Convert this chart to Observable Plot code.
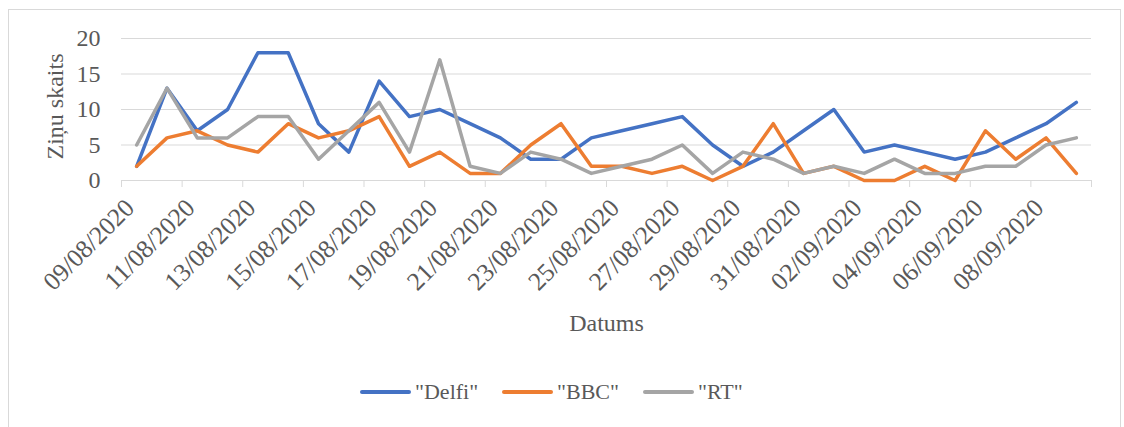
<!DOCTYPE html>
<html>
<head>
<meta charset="utf-8">
<script src="https://cdn.jsdelivr.net/npm/d3@7"></script>
<script src="https://cdn.jsdelivr.net/npm/@observablehq/plot@0.6"></script>
<style>
  html, body { margin: 0; padding: 0; background: #fff; }
  #wrap { position: relative; width: 1124px; height: 427px; overflow: hidden; font-family: "Liberation Serif", "Times New Roman", serif; color: #595959; }
  #frame { position: absolute; left: 8px; top: 9px; width: 1113px; height: 440px; border: 1px solid #d9d9d9; box-sizing: border-box; }
  #chart { position: absolute; left: 0; top: 0; }
  #legend { position: absolute; left: 0; top: 377px; width: 1124px; height: 30px; font-size: 22px; white-space: nowrap; }
  .item { position: absolute; top: 0; display: flex; align-items: center; height: 30px; }
  .swatch { width: 51px; height: 3.5px; border-radius: 2px; margin-right: 4px; }
</style>
</head>
<body>
<div id="wrap">
  <div id="frame"></div>
  <div id="chart"></div>
  <div id="legend"></div>
</div>
<script>
const dates = ["09/08/2020","10/08/2020","11/08/2020","12/08/2020","13/08/2020","14/08/2020","15/08/2020","16/08/2020",
  "17/08/2020","18/08/2020","19/08/2020","20/08/2020","21/08/2020","22/08/2020","23/08/2020","24/08/2020",
  "25/08/2020","26/08/2020","27/08/2020","28/08/2020","29/08/2020","30/08/2020","31/08/2020","01/09/2020",
  "02/09/2020","03/09/2020","04/09/2020","05/09/2020","06/09/2020","07/09/2020","08/09/2020","09/09/2020"];
const delfi = [2,13,7,10,18,18,8,4,14,9,10,8,6,3,3,6,7,8,9,5,2,4,7,10,4,5,4,3,4,6,8,11];
const bbc   = [2,6,7,5,4,8,6,7,9,2,4,1,1,5,8,2,2,1,2,0,2,8,1,2,0,0,2,0,7,3,6,1];
const rt    = [5,13,6,6,9,9,3,7,11,4,17,2,1,4,3,1,2,3,5,1,4,3,1,2,1,3,1,1,2,2,5,6];
const seriesNames = ['"Delfi"', '"BBC"', '"RT"'];
const seriesValues = [delfi, bbc, rt];
const yTicks = [0, 5, 10, 15, 20];
const yTitle = "Ziņu skaits";
const xTitle = "Datums";

const colors = ["#4472C4", "#ED7D31", "#A5A5A5"];
const legendLeft = [360, 502, 643];
const rows = seriesNames.flatMap((name, s) => seriesValues[s].map((v, i) => ({series: name, i, value: v})));
const boundaries = d3.range(-0.5, dates.length, 2);
const labelIdx = d3.range(0, dates.length, 2);

const font = '"Liberation Serif", "Times New Roman", serif';
const fs = 24;
const chart = Plot.plot({
  width: 1124,
  height: 350,
  marginLeft: 121,
  marginRight: 33,
  marginTop: 38,
  marginBottom: 170,
  style: {fontFamily: font, color: "#595959", background: "transparent"},
  x: {type: "linear", domain: [-0.5, dates.length - 0.5]},
  y: {domain: [0, 20]},
  color: {domain: seriesNames, range: colors},
  marks: [
    Plot.gridY(yTicks, {stroke: "#d9d9d9", strokeOpacity: 1, strokeWidth: 1}),
    Plot.ruleY([0], {stroke: "#d9d9d9", strokeWidth: 1}),
    Plot.axisX({ticks: boundaries, tickSize: 7, tickFormat: () => "", stroke: "#d9d9d9", label: null}),
    Plot.axisY({ticks: yTicks, tickSize: 0, tickPadding: 21, fontSize: fs, fontFamily: font, fill: "#595959", label: null}),
    Plot.text(labelIdx, {x: d => d, frameAnchor: "bottom", text: d => dates[d], rotate: -45, textAnchor: "end",
      dx: -1, dy: 29, fontSize: 25.5, fontFamily: font, fill: "#595959"}),
    Plot.text([yTitle], {frameAnchor: "left", textAnchor: "middle", rotate: -90, dx: -66, dy: -3,
      fontSize: fs, fontFamily: font, fill: "#595959"}),
    Plot.text([xTitle], {frameAnchor: "bottom", textAnchor: "middle", dy: 150, fontSize: fs, fontFamily: font, fill: "#595959"}),
    Plot.line(rows, {x: "i", y: "value", z: "series", stroke: "series", strokeWidth: 3.5,
      strokeLinejoin: "round", strokeLinecap: "round"})
  ]
});
document.getElementById("chart").appendChild(chart);

const legend = document.getElementById("legend");
seriesNames.forEach((name, s) => {
  const item = document.createElement("div");
  item.className = "item";
  item.style.left = legendLeft[s] + "px";
  const sw = document.createElement("span");
  sw.className = "swatch";
  sw.style.background = colors[s];
  const lab = document.createElement("span");
  lab.textContent = name;
  item.appendChild(sw);
  item.appendChild(lab);
  legend.appendChild(item);
});
</script>
</body>
</html>
